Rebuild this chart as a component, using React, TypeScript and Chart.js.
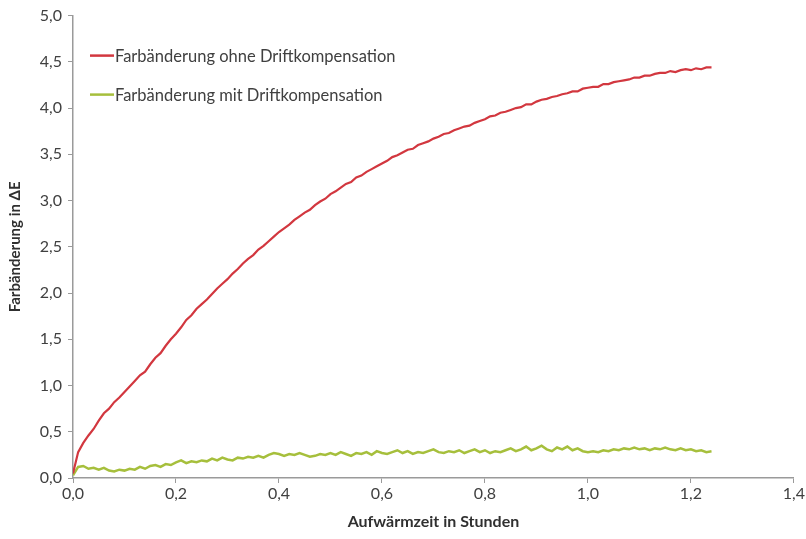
import React, { useEffect, useRef } from "react";
import { Chart, registerables } from "chart.js";

Chart.register(...registerables);

const TIME = [
  0.00, 0.01, 0.02, 0.03, 0.04, 0.05, 0.06, 0.07, 0.08, 0.09,
  0.10, 0.11, 0.12, 0.13, 0.14, 0.15, 0.16, 0.17, 0.18, 0.19,
  0.20, 0.21, 0.22, 0.23, 0.24, 0.25, 0.26, 0.27, 0.28, 0.29,
  0.30, 0.31, 0.32, 0.33, 0.34, 0.35, 0.36, 0.37, 0.38, 0.39,
  0.40, 0.41, 0.42, 0.43, 0.44, 0.45, 0.46, 0.47, 0.48, 0.49,
  0.50, 0.51, 0.52, 0.53, 0.54, 0.55, 0.56, 0.57, 0.58, 0.59,
  0.60, 0.61, 0.62, 0.63, 0.64, 0.65, 0.66, 0.67, 0.68, 0.69,
  0.70, 0.71, 0.72, 0.73, 0.74, 0.75, 0.76, 0.77, 0.78, 0.79,
  0.80, 0.81, 0.82, 0.83, 0.84, 0.85, 0.86, 0.87, 0.88, 0.89,
  0.90, 0.91, 0.92, 0.93, 0.94, 0.95, 0.96, 0.97, 0.98, 0.99,
  1.00, 1.01, 1.02, 1.03, 1.04, 1.05, 1.06, 1.07, 1.08, 1.09,
  1.10, 1.11, 1.12, 1.13, 1.14, 1.15, 1.16, 1.17, 1.18, 1.19,
  1.20, 1.21, 1.22, 1.23, 1.24,
];

const OHNE_DRIFT = [
  0.05, 0.28, 0.38, 0.46, 0.53, 0.62, 0.70, 0.75, 0.82, 0.87,
  0.93, 0.99, 1.05, 1.11, 1.15, 1.23, 1.30, 1.35, 1.43, 1.50,
  1.56, 1.63, 1.71, 1.76, 1.83, 1.88, 1.93, 1.99, 2.05, 2.10,
  2.15, 2.21, 2.26, 2.32, 2.37, 2.41, 2.47, 2.51, 2.56, 2.61,
  2.66, 2.70, 2.74, 2.79, 2.83, 2.87, 2.90, 2.95, 2.99, 3.02,
  3.07, 3.10, 3.14, 3.18, 3.20, 3.25, 3.27, 3.31, 3.34, 3.37,
  3.40, 3.43, 3.47, 3.49, 3.52, 3.55, 3.56, 3.60, 3.62, 3.64,
  3.67, 3.69, 3.72, 3.73, 3.76, 3.78, 3.80, 3.81, 3.84, 3.86,
  3.88, 3.91, 3.92, 3.95, 3.96, 3.98, 4.00, 4.01, 4.04, 4.04,
  4.07, 4.09, 4.10, 4.12, 4.13, 4.15, 4.16, 4.18, 4.18, 4.21,
  4.22, 4.23, 4.23, 4.26, 4.26, 4.28, 4.29, 4.30, 4.31, 4.33,
  4.33, 4.35, 4.35, 4.37, 4.38, 4.38, 4.40, 4.39, 4.41, 4.42,
  4.41, 4.43, 4.42, 4.44, 4.44,
];

const MIT_DRIFT = [
  0.03, 0.12, 0.13, 0.10, 0.11, 0.09, 0.11, 0.08, 0.07, 0.09,
  0.08, 0.10, 0.09, 0.12, 0.10, 0.13, 0.14, 0.12, 0.15, 0.14,
  0.17, 0.19, 0.16, 0.18, 0.17, 0.19, 0.18, 0.21, 0.19, 0.22,
  0.20, 0.19, 0.22, 0.21, 0.23, 0.22, 0.24, 0.22, 0.25, 0.27,
  0.26, 0.24, 0.26, 0.25, 0.27, 0.25, 0.23, 0.24, 0.26, 0.25,
  0.27, 0.25, 0.28, 0.26, 0.24, 0.27, 0.26, 0.28, 0.25, 0.29,
  0.27, 0.26, 0.28, 0.30, 0.27, 0.29, 0.26, 0.28, 0.27, 0.29,
  0.31, 0.28, 0.27, 0.29, 0.28, 0.30, 0.27, 0.29, 0.31, 0.28,
  0.30, 0.27, 0.29, 0.28, 0.30, 0.32, 0.29, 0.31, 0.34, 0.30,
  0.32, 0.35, 0.31, 0.29, 0.33, 0.31, 0.34, 0.30, 0.32, 0.29,
  0.28, 0.29, 0.28, 0.30, 0.29, 0.31, 0.30, 0.32, 0.31, 0.33,
  0.31, 0.32, 0.30, 0.32, 0.31, 0.33, 0.31, 0.30, 0.32, 0.30,
  0.31, 0.29, 0.30, 0.28, 0.29,
];

const SERIES_LABELS = [
  "Farbänderung ohne Driftkompensation",
  "Farbänderung mit Driftkompensation",
];
const X_TITLE = "Aufwärmzeit in Stunden";
const Y_TITLE = "Farbänderung in ΔE";

const RED = "#d2373f";
const GREEN = "#a6bf3c";
const FONT = "Lato, 'Open Sans', sans-serif";
const TEXT = "#404040";
const AXIS = "#9a9a9a";

const fmt = (v: number | string) => Number(v).toFixed(1).replace(".", ",");

const insideLegend = {
  id: "insideLegend",
  afterDraw(chart: any) {
    const { ctx, chartArea } = chart;
    ctx.save();
    ctx.font = `16.5px ${FONT}`;
    ctx.textBaseline = "middle";
    chart.data.datasets.forEach((ds: any, i: number) => {
      const y = chartArea.top + 40 + i * 39;
      const x0 = chartArea.left + 17;
      ctx.strokeStyle = ds.borderColor;
      ctx.lineWidth = 2.5;
      ctx.beginPath();
      ctx.moveTo(x0, y);
      ctx.lineTo(x0 + 24, y);
      ctx.stroke();
      ctx.fillStyle = TEXT;
      ctx.fillText(ds.label, x0 + 25, y + 1);
    });
    ctx.restore();
  },
};

export default function App() {
  const ref = useRef<HTMLCanvasElement | null>(null);

  useEffect(() => {
    document.body.style.margin = "0";
    const canvas = ref.current;
    if (!canvas) return;
    const chart = new Chart(canvas, {
      type: "line",
      data: {
        datasets: [
          {
            label: SERIES_LABELS[0],
            data: TIME.map((t, i) => ({ x: t, y: OHNE_DRIFT[i] })),
            borderColor: RED,
            borderWidth: 2.2,
            pointRadius: 0,
            tension: 0,
          },
          {
            label: SERIES_LABELS[1],
            data: TIME.map((t, i) => ({ x: t, y: MIT_DRIFT[i] })),
            borderColor: GREEN,
            borderWidth: 2.5,
            pointRadius: 0,
            tension: 0,
          },
        ],
      },
      options: {
        animation: false,
        responsive: false,
        maintainAspectRatio: false,
        layout: { padding: { left: 0, top: 15, right: 11, bottom: 8 } },
        plugins: {
          legend: { display: false },
          tooltip: { enabled: false },
        },
        scales: {
          x: {
            type: "linear",
            min: 0,
            max: 1.4,
            afterFit: (s: any) => {
              s.height = 53;
            },
            ticks: {
              stepSize: 0.2,
              callback: (v: any) => fmt(v),
              color: TEXT,
              font: { family: FONT, size: 16 },
              padding: 1,
            },
            grid: {
              drawOnChartArea: false,
              drawTicks: true,
              tickLength: 5,
              color: AXIS,
            },
            border: { color: AXIS, width: 1.5 },
            title: {
              display: true,
              text: X_TITLE,
              color: "#303030",
              font: { family: FONT, size: 16, weight: "bold" },
              padding: { top: 2, bottom: 0 },
            },
          },
          y: {
            type: "linear",
            min: 0,
            max: 5,
            afterFit: (s: any) => {
              s.width = 73;
            },
            ticks: {
              stepSize: 0.5,
              callback: (v: any) => fmt(v),
              color: TEXT,
              font: { family: FONT, size: 16 },
              padding: 6,
            },
            grid: {
              drawOnChartArea: false,
              drawTicks: true,
              tickLength: 5,
              color: AXIS,
            },
            border: { color: AXIS, width: 1.5 },
            title: {
              display: true,
              text: Y_TITLE,
              color: "#303030",
              font: { family: FONT, size: 15, weight: "bold" },
              padding: { top: 6, bottom: 4 },
            },
          },
        },
      },
      plugins: [insideLegend],
    });
    return () => chart.destroy();
  }, []);

  return (
    <div style={{ position: "absolute", left: 0, top: 0, width: 806, height: 539, background: "#fff" }}>
      <canvas ref={ref} width={806} height={539} style={{ width: 806, height: 539, display: "block" }} />
    </div>
  );
}
